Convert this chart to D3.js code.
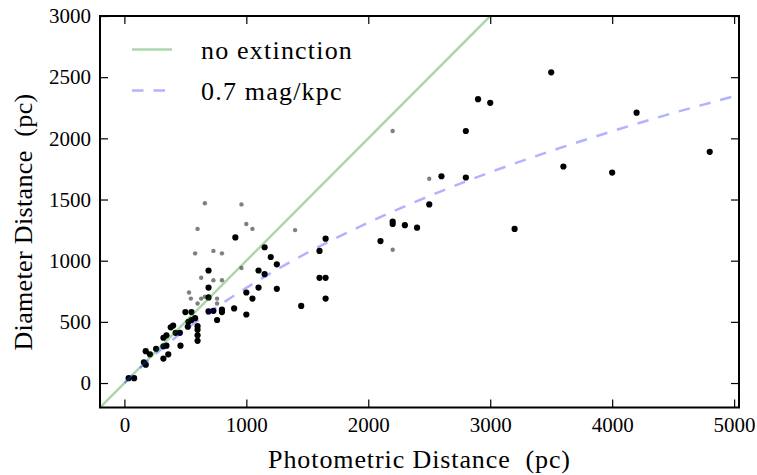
<!DOCTYPE html>
<html><head><meta charset="utf-8">
<script src="https://cdn.jsdelivr.net/npm/d3@7"></script>
<style>body{margin:0;background:#fff}svg{display:block}</style>
</head><body><svg id="chart" width="757" height="475"></svg>
<script>
// ---- data ----
const xTicks = [0, 1000, 2000, 3000, 4000, 5000];
const yTicks = [0, 500, 1000, 1500, 2000, 2500, 3000];

const blackX = [910,1150,1200,1250,690,1100,1150,690,1100,1250,1000,1050,690,1450,500,550,690,730,800,800,900,1000,760,525,550,580,520,600,600,600,600,380,400,420,455,320,345,460,260,320,345,175,210,360,320,160,175,35,80,
  1650,1600,1600,1650,1650,2100,2200,2200,2300,2400,2500,2600,2800,2800,2900,3000,3500,3200,3600,4000,4200,4800];
const blackY = [1190,1110,1030,970,920,920,890,780,780,770,740,690,700,630,580,580,585,590,600,580,610,560,515,500,515,530,460,465,435,390,345,455,470,410,410,370,390,305,280,300,305,260,235,235,200,170,150,40,40,
  1180,1080,860,860,690,1160,1320,1300,1290,1270,1460,1690,1680,2060,2320,2290,2540,1260,1770,1720,2210,1890];

const grayX = [660,960,600,1000,1050,1400,580,730,800,960,630,730,800,530,545,630,660,760,600,760,2200,2500,2200];
const grayY = [1470,1460,1260,1300,1260,1250,1060,1080,1060,940,860,840,840,740,690,690,705,690,650,650,2060,1670,1090];

const noExtX = [-200, 3000];
const noExtY = [-200, 3000];
const extX = [0,250,500,750,1000,1250,1500,2000,2500,3000,3500,4000,4500,5000,5100];
const extY = [0,232,435,615,778,927,1065,1311,1528,1723,1897,2058,2207,2345,2374];

const legendLabels = ["no extinction", "0.7 mag/kpc"];
const xLabel = "Photometric Distance\u00a0\u00a0(pc)";
const yLabel = "Diameter Distance\u00a0\u00a0(pc)";

// ---- layout ----
const L = 100, R = 739, T = 16, B = 407.5;
const FONT = "'Liberation Serif', 'Times New Roman', serif";
const svg = d3.select("#chart");
const x = d3.scaleLinear().domain([-200, 5040]).range([L, R]);
const y = d3.scaleLinear().domain([-200, 3000]).range([B, T]);

svg.append("defs").append("clipPath").attr("id", "clip")
  .append("rect").attr("x", L).attr("y", T).attr("width", R - L).attr("height", B - T);

const plot = svg.append("g").attr("clip-path", "url(#clip)");

// gray points
plot.append("g").selectAll("circle").data(d3.range(grayX.length)).join("circle")
  .attr("cx", i => x(grayX[i])).attr("cy", i => y(grayY[i])).attr("r", 2.2)
  .attr("fill", "#7f7f7f");
// black points
plot.append("g").selectAll("circle").data(d3.range(blackX.length)).join("circle")
  .attr("cx", i => x(blackX[i])).attr("cy", i => y(blackY[i])).attr("r", 3.1)
  .attr("fill", "#000");

// lines
const line = d3.line().x(d => x(d[0])).y(d => y(d[1])).curve(d3.curveMonotoneX);
plot.append("path").attr("d", line(noExtX.map((v, i) => [v, noExtY[i]])))
  .attr("fill", "none").attr("stroke", "#008000").attr("stroke-opacity", 0.32).attr("stroke-width", 2.5);
plot.append("path").attr("d", line(extX.map((v, i) => [v, extY[i]])))
  .attr("fill", "none").attr("stroke", "#0000ff").attr("stroke-opacity", 0.3).attr("stroke-width", 2.5)
  .attr("stroke-dasharray", "11.5,10");

// axes
function styleAxis(g) {
  g.select(".domain").remove();
  g.selectAll(".tick line").attr("stroke", "#000").attr("stroke-width", 1.2);
  g.selectAll(".tick text").attr("font-family", FONT).attr("font-size", 21).attr("fill", "#000");
}
svg.append("g").attr("transform", `translate(0,${B})`)
  .call(d3.axisBottom(x).tickValues(xTicks).tickFormat(d3.format("d")).tickSize(-8).tickPadding(10)).call(styleAxis);
svg.append("g").attr("transform", `translate(${L},0)`)
  .call(d3.axisLeft(y).tickValues(yTicks).tickFormat(d3.format("d")).tickSize(-8).tickPadding(9)).call(styleAxis);
svg.append("g").attr("transform", `translate(0,${T})`)
  .call(d3.axisTop(x).tickValues(xTicks).tickFormat("").tickSize(-8)).call(styleAxis);
svg.append("g").attr("transform", `translate(${R},0)`)
  .call(d3.axisRight(y).tickValues(yTicks).tickFormat("").tickSize(-8)).call(styleAxis);

// frame
svg.append("rect").attr("x", L).attr("y", T).attr("width", R - L).attr("height", B - T)
  .attr("fill", "none").attr("stroke", "#000").attr("stroke-width", 2);

// legend
const leg = svg.append("g");
leg.append("line").attr("x1", 132).attr("x2", 172).attr("y1", 49.5).attr("y2", 49.5)
  .attr("stroke", "#008000").attr("stroke-opacity", 0.32).attr("stroke-width", 2.5);
leg.append("line").attr("x1", 132).attr("x2", 172).attr("y1", 90.5).attr("y2", 90.5)
  .attr("stroke", "#0000ff").attr("stroke-opacity", 0.3).attr("stroke-width", 2.5).attr("stroke-dasharray", "11.5,10");
leg.selectAll("text").data(legendLabels).join("text")
  .attr("x", 201).attr("y", (d, i) => 58.5 + i * 41)
  .attr("font-family", FONT).attr("font-size", 26).attr("letter-spacing", 1.2).attr("fill", "#000")
  .text(d => d);

// axis labels
svg.append("text").attr("x", (L + R) / 2).attr("y", 468).attr("text-anchor", "middle")
  .attr("font-family", FONT).attr("font-size", 26).attr("letter-spacing", 0.9).attr("fill", "#000").text(xLabel);
svg.append("text").attr("transform", `translate(32,222) rotate(-90)`).attr("text-anchor", "middle")
  .attr("font-family", FONT).attr("font-size", 26).attr("letter-spacing", 0.35).attr("fill", "#000").text(yLabel);
</script></body></html>
